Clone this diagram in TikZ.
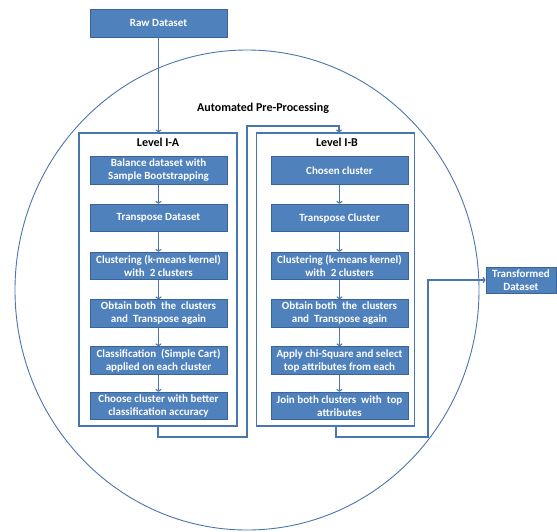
\documentclass[tikz,border=0pt]{standalone}
\usepackage{fontspec}
\setmainfont{Carlito}
\usetikzlibrary{arrows.meta,calc}
\definecolor{boxfill}{HTML}{4F81BD}
\definecolor{boxdraw}{HTML}{3A6496}
\definecolor{linecol}{HTML}{4A76AE}
\tikzset{
  proc/.style={draw=boxdraw, line width=0.8pt, fill=boxfill, text=white, font=\fontsize{11}{13}\selectfont\bfseries, align=center, minimum width=137pt, minimum height=27.5pt, inner sep=1pt},
  container/.style={draw=linecol, line width=1.1pt, fill=white, minimum width=158pt, minimum height=293pt, inner sep=0pt},
  title/.style={font=\fontsize{12}{14}\selectfont\bfseries, text=black},
  conn/.style={draw=linecol, line width=1.1pt},
  arr/.style={conn, -{To[length=3pt,width=6pt]}},
}
\begin{document}
\begin{tikzpicture}[x=1pt,y=-1pt]
\useasboundingbox (0,0) rectangle (557,531);
% big circle
\draw[linecol, line width=0.9pt] (247,290) ellipse [x radius=232pt, y radius=240pt];
\node[title] (auto) at (263,108) {Automated Pre-Processing};
% containers
\node[container] (LA) at (158,279.5) {};
\node[container] (LB) at (335.5,279.5) {};
\node[title] (ta) at (158,142) {Level I-A};
\node[title] (tb) at (337,142) {Level I-B};
% raw dataset
\node[proc, minimum height=28pt] (raw) at (158.5,23) {Raw Dataset};
% Level I-A boxes
\node[proc] (a1) at (158.5,170.5) {Balance dataset with\\Sample Bootstrapping};
\node[proc] (a2) at (158.5,218) {Transpose Dataset};
\node[proc] (a3) at (158.5,266) {Clustering (k-means kernel)\\with\ \ 2 clusters};
\node[proc] (a4) at (158.5,313.5) {Obtain both\ \ the\ \ clusters\\and\ \ Transpose again};
\node[proc] (a5) at (158.5,360.5) {Classification\ \ (Simple Cart)\\applied on each cluster};
\node[proc] (a6) at (158.5,406) {Choose cluster with better\\classification accuracy};
% Level I-B boxes
\node[proc] (b1) at (339.5,170.5) {Chosen cluster};
\node[proc] (b2) at (339.5,218) {Transpose Cluster};
\node[proc] (b3) at (339.5,266) {Clustering (k-means kernel)\\with\ \ 2 clusters};
\node[proc] (b4) at (339.5,313.5) {Obtain both\ \ the\ \ clusters\\and\ \ Transpose again};
\node[proc] (b5) at (339.5,360.5) {Apply chi-Square and select\\top attributes from each};
\node[proc] (b6) at (339.5,406) {Join both clusters\ \ with\ \ top\\attributes};
% transformed
\node[proc, minimum width=70pt, minimum height=26pt, inner sep=0pt] (tr) at (521,280) {Transformed\\Dataset};
% connectors
\draw[arr] (raw.south) -- (raw.south |- LA.north);
\foreach \p/\q in {a1/a2,a2/a3,a3/a4,a4/a5,a5/a6,b1/b2,b2/b3,b3/b4,b4/b5,b5/b6}
  \draw[arr] (\p.south) -- (\q.north);
\coordinate (c1) at (158,437);
\coordinate (c2) at (247,437);
\coordinate (c3) at (247,126);
\coordinate (c4) at (339,126);
\draw[arr] (LA.south) -- (c1) -- (c2) -- (c3) -- (c4) -- (c4 |- LB.north);
\coordinate (d1) at (336,437);
\coordinate (d2) at (428,437);
\coordinate (d3) at (428,280);
\draw[arr] (d1 |- LB.south) -- (d1) -- (d2) -- (d3) -- (tr.west);
\end{tikzpicture}
\end{document}
